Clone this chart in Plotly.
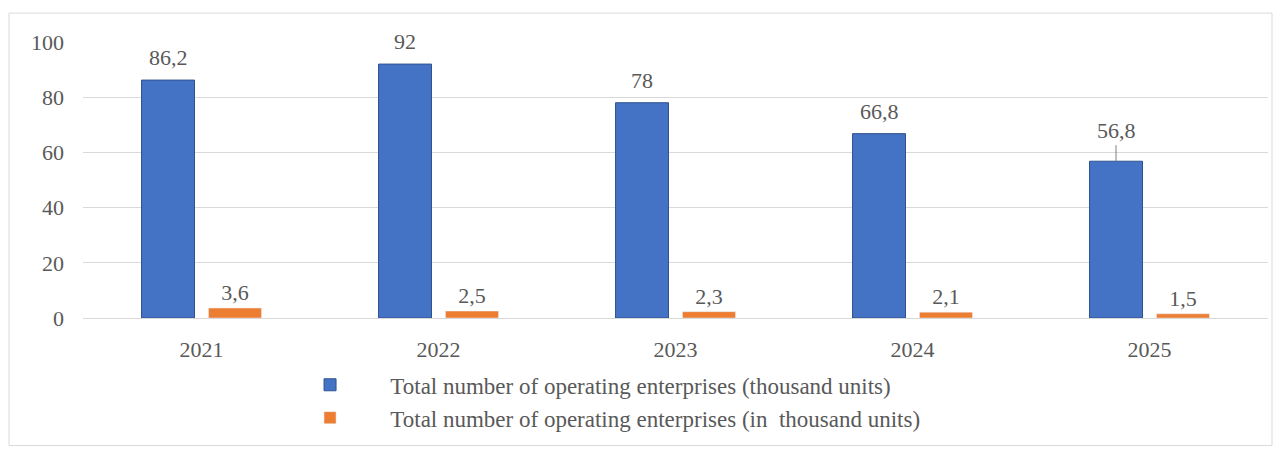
import plotly.graph_objects as go

years = ["2021", "2022", "2023", "2024", "2025"]
series_a = [86.2, 92, 78, 66.8, 56.8]
series_b = [3.6, 2.5, 2.3, 2.1, 1.5]
name_a = "Total number of operating enterprises (thousand units)"
name_b = "Total number of operating enterprises (in  thousand units)"

def fmt(v):
    return ("%g" % v).replace(".", ",")

FONT = "Liberation Serif, Times New Roman, serif"
GREY = "#595959"
PAD = "\u00a0" * 7
BARGAP = 0.435
PLOT_W = 1282 - 83 - 14
BLUE_SHIFT = -(1 - BARGAP) * PLOT_W / len(years) / 4

fig = go.Figure()
fig.add_trace(go.Bar(
    x=years, y=series_a, name=PAD + name_a,
    marker=dict(color="#4472C4", line=dict(color="#2F528F", width=1)),
))
fig.add_trace(go.Bar(
    x=years, y=series_b, name=PAD + name_b,
    marker=dict(color="#ED7D31"),
    text=[fmt(v) for v in series_b], textposition="outside", cliponaxis=False,
    textfont=dict(family=FONT, size=22, color=GREY),
))

last = len(years) - 1
for i, v in enumerate(series_a):
    if i == last:
        fig.add_annotation(
            x=i, y=v, xshift=BLUE_SHIFT, text=fmt(v),
            showarrow=True, arrowhead=0, arrowwidth=1, arrowcolor="#7f7f7f",
            ax=0, ay=-16, yanchor="bottom",
            font=dict(family=FONT, size=22, color=GREY),
        )
    else:
        fig.add_annotation(
            x=i, y=v, xshift=BLUE_SHIFT, yshift=8, text=fmt(v),
            showarrow=False, yanchor="bottom",
            font=dict(family=FONT, size=22, color=GREY),
        )

fig.update_layout(
    width=1282, height=450,
    margin=dict(l=83, r=14, t=42, b=131),
    plot_bgcolor="white", paper_bgcolor="white",
    barmode="group", bargap=BARGAP, bargroupgap=0.209,
    font=dict(family=FONT, size=22, color=GREY),
    showlegend=True,
    legend=dict(
        orientation="v", x=0.1916, y=-0.16, xanchor="left", yanchor="top",
        font=dict(family=FONT, size=23, color=GREY),
        itemwidth=30, tracegroupgap=0,
    ),
    xaxis=dict(type="category", range=[-0.5, len(years) - 0.5], showline=False, ticks="",
               ticklabelstandoff=16,
               tickfont=dict(family=FONT, size=22, color=GREY)),
    yaxis=dict(range=[0, 100], dtick=20, showgrid=True, gridcolor="#d9d9d9", gridwidth=1,
               zeroline=True, zerolinecolor="#d9d9d9", zerolinewidth=1,
               ticks="", ticklabelstandoff=18,
               tickfont=dict(family=FONT, size=22, color=GREY)),
    shapes=[dict(type="rect", xref="paper", yref="paper",
                 x0=-74/1185, x1=1189/1185, y0=-128/277, y1=1+29/277,
                 line=dict(color="#d9d9d9", width=1), fillcolor="rgba(0,0,0,0)", layer="below")],
)

fig.write_html("out.html")
